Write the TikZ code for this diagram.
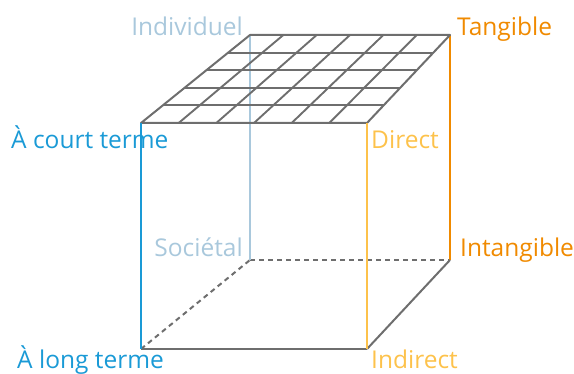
\documentclass[tikz,border=0pt]{standalone}
\usepackage{fontspec}
\usetikzlibrary{calc}
\setmainfont{Open Sans}
\definecolor{cblue}{HTML}{1A9AD6}
\definecolor{clblue}{HTML}{A9C8DC}
\definecolor{cyellow}{HTML}{FDC24B}
\definecolor{corange}{HTML}{F08A00}
\definecolor{cgray}{HTML}{6E6E6E}
\tikzset{
  lbl/.style={inner sep=0pt, font=\fontsize{24.5}{28}\selectfont},
  edge/.style={draw=cgray, line width=2pt},
  dedge/.style={draw=cgray, line width=2pt, dash pattern=on 5pt off 4pt},
  gridline/.style={draw=cgray, line width=1.9pt},
  cedge/.style={line width=2.5pt}
}
\begin{document}
\begin{tikzpicture}[x=1pt,y=-1pt]
\useasboundingbox (0,0) rectangle (574,374);
% corners
\coordinate (ftl) at (141,123);
\coordinate (ftr) at (367,123);
\coordinate (fbl) at (141,349);
\coordinate (fbr) at (367,349);
\coordinate (btl) at (250,35);
\coordinate (btr) at (450,35);
\coordinate (bbl) at (250,260);
\coordinate (bbr) at (450,260);
% hidden edges
\draw[dedge] (fbl) -- (bbl);
\draw[dedge] (bbl) -- (bbr);
% back verticals
\draw[cedge, clblue] (btl) -- (bbl);
\draw[cedge, corange] (btr) -- (bbr);
% top grid
\foreach \i in {1,...,4} {
  \draw[gridline] ($(ftl)!\i/5!(btl)$) -- ($(ftr)!\i/5!(btr)$);
}
\foreach \j in {1,...,5} {
  \draw[gridline] ($(ftl)!\j/6!(ftr)$) -- ($(btl)!\j/6!(btr)$);
}
\draw[edge, line join=round] (ftl) -- (ftr) -- (btr) -- (btl) -- cycle;
% front face
\draw[edge] (fbl) -- (fbr);
\draw[edge] (fbr) -- (bbr);
\draw[cedge, cblue] (ftl) -- (fbl);
\draw[cedge, cyellow] (ftr) -- (fbr);
% labels
\node[lbl, text=clblue, anchor=base east] (individuel) at (243,36) {Individuel};
\node[lbl, text=corange, anchor=base west] (tangible) at (457,36) {Tangible};
\node[lbl, text=cblue, anchor=base west] (court) at (11,149) {À court terme};
\node[lbl, text=cyellow, anchor=base west] (direct) at (371,149) {Direct};
\node[lbl, text=clblue, anchor=base east] (societal) at (243,257) {Sociétal};
\node[lbl, text=corange, anchor=base west] (intangible) at (460,257) {Intangible};
\node[lbl, text=cblue, anchor=base west] (long) at (17,369) {À long terme};
\node[lbl, text=cyellow, anchor=base west] (indirect) at (371,369) {Indirect};
\end{tikzpicture}
\end{document}
